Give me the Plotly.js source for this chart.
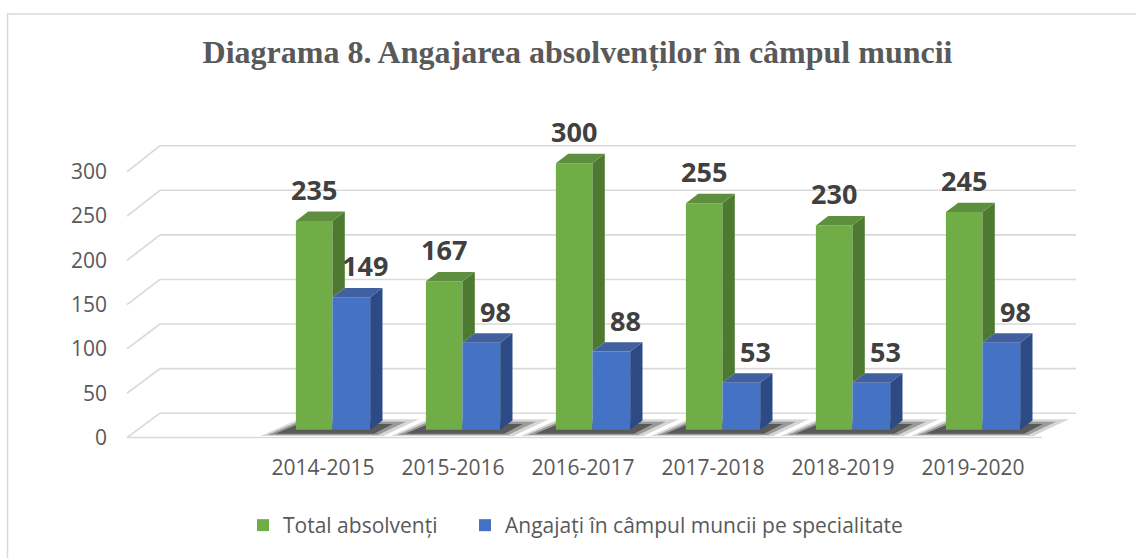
<!DOCTYPE html>
<html>
<head>
<meta charset="utf-8">
<script src="https://cdn.plot.ly/plotly-3.0.1.min.js"></script>
<style>
  html, body { margin: 0; padding: 0; background: #ffffff; }
  #chart { width: 1136px; height: 558px; }
</style>
</head>
<body>
<div id="chart"></div>
<script>
// ---- data ----
const categories = ['2014-2015', '2015-2016', '2016-2017', '2017-2018', '2018-2019', '2019-2020'];
const totalAbsolventi = [235, 167, 300, 255, 230, 245];
const angajatiSpecialitate = [149, 98, 88, 53, 53, 98];
const yTickValues = [0, 50, 100, 150, 200, 250, 300];
const seriesNames = ['Total absolvenți', 'Angajați în câmpul muncii pe specialitate'];
const chartTitle = 'Diagrama 8. Angajarea absolvenților în câmpul muncii';

// ---- geometry (pixel mapping of the 3D frame) ----
const W = 1136, H = 558;
const ML = 120, MR = 56, MT = 110, MB = 113;
const PX0 = 333, PXU = 130;      // pixel of category 0, pixels per category
const PY0 = 431.7, PYU = 0.894;  // pixel of value 0 on the bar plane, pixels per unit
const toX = px => (px - PX0) / PXU;
const toY = py => (PY0 - py) / PYU;
const DX = 12.3 / PXU;           // depth offset in x units
const DY = 9.4 / PYU;            // depth offset in y units
const GO = -0.2854, GW = 0.2815; // green bar offset / width
const BO = GO + GW, BW = 0.29;   // blue bar offset / width

const idx = categories.map((c, i) => i);

// label axis (front plane)
const LY0 = 439.5, LYU = 0.891;
const plotBottom = H - MB, plotTop = MT;

// ---- faces ----
function polys(builder) {
  const xs = [], ys = [];
  idx.forEach(i => {
    const pts = builder(i);
    pts.forEach(p => { xs.push(p[0]); ys.push(p[1]); });
    xs.push(pts[0][0]); ys.push(pts[0][1]);
    xs.push(null); ys.push(null);
  });
  return {xs, ys};
}
const greenSide = polys(i => {
  const x1 = i + GO + GW, v = totalAbsolventi[i], b = angajatiSpecialitate[i];
  return [[x1, b], [x1, v], [x1 + DX, v + DY], [x1 + DX, b + DY]];
});
const greenTop = polys(i => {
  const x0 = i + GO, x1 = x0 + GW, v = totalAbsolventi[i];
  return [[x0, v], [x1, v], [x1 + DX, v + DY], [x0 + DX, v + DY]];
});
const blueSide = polys(i => {
  const x2 = i + BO + BW, b = angajatiSpecialitate[i];
  return [[x2, 0], [x2, b], [x2 + DX, b + DY], [x2 + DX, DY]];
});
const blueTop = polys(i => {
  const x1 = i + BO, x2 = x1 + BW, b = angajatiSpecialitate[i];
  return [[x1, b], [x2, b], [x2 + DX, b + DY], [x1 + DX, b + DY]];
});

function faceTrace(p, color) {
  return {
    type: 'scatter', x: p.xs, y: p.ys, mode: 'lines', fill: 'toself',
    fillcolor: color, line: {width: 0, color: color},
    hoverinfo: 'skip', showlegend: false
  };
}

const traces = [
  {
    type: 'bar', name: seriesNames[0], x: idx, y: totalAbsolventi,
    offset: GO, width: GW, legend: 'legend',
    marker: {color: '#70ad47', line: {width: 0}},
    hovertemplate: '%{y}<extra>' + seriesNames[0] + '</extra>'
  },
  {
    type: 'bar', name: seriesNames[1], x: idx, y: angajatiSpecialitate,
    offset: BO, width: BW, legend: 'legend2',
    marker: {color: '#4472c4', line: {width: 0}},
    hovertemplate: '%{y}<extra>' + seriesNames[1] + '</extra>'
  },
  faceTrace(greenSide, '#4d7a30'),
  faceTrace(greenTop, '#5e8f3e'),
  faceTrace(blueSide, '#2b4a86'),
  faceTrace(blueTop, '#41609f'),
  // anchor for the label axis
  {type: 'scatter', x: [0], y: [0], yaxis: 'y2', mode: 'markers',
   marker: {opacity: 0}, hoverinfo: 'skip', showlegend: false}
];

// ---- shapes: 3D grid frame, floor shadows, chart border ----
const gridColor = '#d9d9d9';
const shapes = [];
yTickValues.forEach(t => {
  const backY = toY(415 - 0.897 * t);
  const frontY = toY(LY0 - LYU * t);
  shapes.push({type: 'line', layer: 'below', xref: 'x', yref: 'y',
    x0: toX(160), x1: toX(1076), y0: backY, y1: backY,
    line: {color: gridColor, width: 1.6}});
  shapes.push({type: 'line', layer: 'below', xref: 'x', yref: 'y',
    x0: toX(127), x1: toX(160), y0: frontY, y1: backY,
    line: {color: gridColor, width: 1.6}});
});
shapes.push({type: 'line', layer: 'below', xref: 'x', yref: 'y',
  x0: toX(127), x1: toX(1042), y0: toY(LY0), y1: toY(LY0),
  line: {color: gridColor, width: 1.6}});

idx.forEach(i => {
  const x0 = i + GO, x2 = i + BO + BW;
  const layers = [
    [[[x0 - 0.27, toY(438)], [x2 + 0.10, toY(438)], [x2 + DX + 0.28, toY(421)], [x0 + 0.02, toY(421)]], 'rgba(0,0,0,0.16)'],
    [[[x0 - 0.22, toY(437)], [x2 + 0.06, toY(437)], [x2 + DX + 0.18, toY(423.5)], [x0 + 0.02, toY(423.5)]], 'rgba(0,0,0,0.28)'],
    [[[x0 - 0.16, toY(435.8)], [x2 + 0.03, toY(435.8)], [x2 + DX + 0.08, toY(426)], [x0 + 0.02, toY(426)]], 'rgba(0,0,0,0.42)']
  ];
  layers.forEach(([pts, col]) => {
    const path = 'M' + pts.map(p => p[0] + ',' + p[1]).join(' L') + ' Z';
    shapes.push({type: 'path', layer: 'below', xref: 'x', yref: 'y', path: path,
      fillcolor: col, line: {width: 0}});
  });
});

const pw = W - ML - MR, ph = H - MT - MB;
const pxToPaperX = px => (px - ML) / pw;
const pyToPaperY = py => (plotBottom - py) / ph;
shapes.push({type: 'rect', layer: 'below', xref: 'paper', yref: 'paper',
  x0: pxToPaperX(7.5), x1: pxToPaperX(1145), y0: pyToPaperY(13.5), y1: pyToPaperY(570),
  line: {color: '#d9d9d9', width: 1.5}, fillcolor: 'rgba(0,0,0,0)'});

// ---- data labels ----
const labelFont = {family: 'Open Sans', size: 27, color: '#404040', weight: 700};
const annotations = [];
idx.forEach(i => {
  annotations.push({x: i + GO + GW / 2, y: totalAbsolventi[i], xref: 'x', yref: 'y',
    text: '<b>' + totalAbsolventi[i] + '</b>', showarrow: false, yanchor: 'bottom',
    yshift: 11, font: labelFont});
  annotations.push({x: i + BO + BW / 2, y: angajatiSpecialitate[i], xref: 'x', yref: 'y',
    text: '<b>' + angajatiSpecialitate[i] + '</b>', showarrow: false, yanchor: 'bottom',
    xshift: 14, yshift: 11, font: labelFont});
});

const tickFont = {family: 'Open Sans', size: 21, color: '#595959'};
const legendBase = {
  orientation: 'h', xref: 'paper', yref: 'paper',
  y: pyToPaperY(528), xanchor: 'left', yanchor: 'middle',
  font: tickFont, bgcolor: 'rgba(0,0,0,0)'
};

const layout = {
  width: W, height: H,
  margin: {l: ML, r: MR, t: MT, b: MB, pad: 0},
  paper_bgcolor: '#ffffff', plot_bgcolor: 'rgba(0,0,0,0)',
  barmode: 'overlay',
  title: {
    text: '<b>' + chartTitle + '</b>',
    font: {family: 'Liberation Serif', size: 32, color: '#595959'},
    xref: 'container', yref: 'container', x: 577.5 / W, y: 1 - 52 / H,
    xanchor: 'center', yanchor: 'middle'
  },
  xaxis: {
    range: [toX(ML), toX(W - MR)], fixedrange: true,
    showgrid: false, zeroline: false, showline: false, ticks: '',
    tickvals: idx.map(i => i - 10 / PXU), ticktext: categories,
    tickfont: tickFont, ticklabelstandoff: 10
  },
  yaxis: {
    range: [toY(plotBottom), toY(plotTop)], fixedrange: true,
    showgrid: false, zeroline: false, showline: false, showticklabels: false, ticks: ''
  },
  yaxis2: {
    overlaying: 'y', side: 'left', fixedrange: true,
    range: [(LY0 - plotBottom) / LYU, (LY0 - plotTop) / LYU],
    tickvals: yTickValues, ticktext: yTickValues.map(String),
    showgrid: false, zeroline: false, showline: false, ticks: '',
    tickfont: tickFont, ticklabelstandoff: 12
  },
  legend: Object.assign({}, legendBase, {x: pxToPaperX(243)}),
  legend2: Object.assign({}, legendBase, {x: pxToPaperX(465)}),
  shapes: shapes,
  annotations: annotations,
  showlegend: true
};

Plotly.newPlot('chart', traces, layout, {displayModeBar: false, staticPlot: true});
</script>
</body>
</html>
